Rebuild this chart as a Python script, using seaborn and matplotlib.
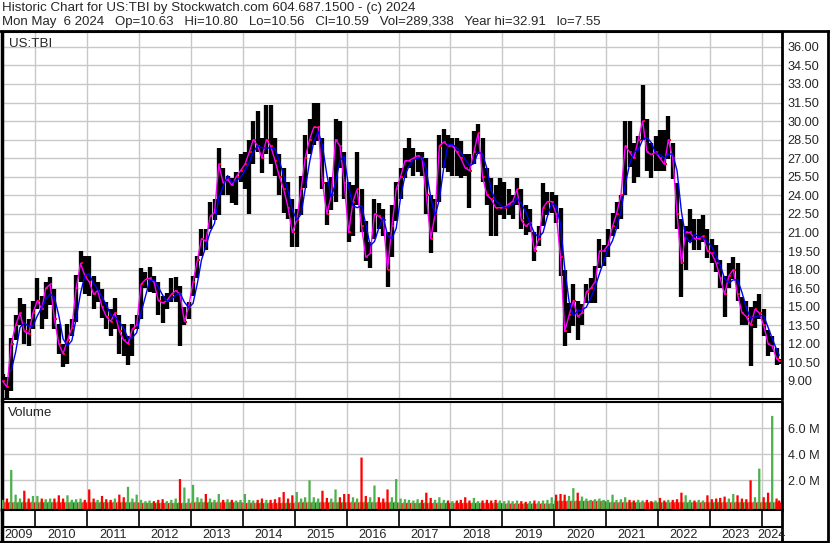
import pandas as pd
import numpy as np
import matplotlib.pyplot as plt
import matplotlib.dates as mdates
from matplotlib.lines import Line2D
import seaborn as sns

sns.set_style("white")
plt.rcParams["font.family"] = ["Liberation Sans", "DejaVu Sans"]

# monthly price readings, May 2009 .. May 2024
close = [9.0, 8.5, 12.0, 13.5, 14.5, 13.0, 12.8, 14.5,                            # 2009
         15.5, 14.8, 16.5, 16.8, 14.0, 12.0, 11.2, 12.3, 13.3, 16.5, 18.5, 17.5,  # 2010
         17.0, 16.0, 16.3, 15.0, 14.2, 13.8, 14.5, 13.0, 12.3, 12.0, 13.2, 13.5,  # 2011
         16.8, 17.2, 17.3, 17.0, 15.5, 15.3, 15.5, 16.0, 16.3, 16.0, 13.8, 15.0,  # 2012
         17.0, 18.8, 20.5, 20.3, 22.3, 22.6, 26.5, 25.0, 25.3, 24.8, 25.5, 26.0,  # 2013
         26.5, 27.5, 28.5, 28.0, 27.0, 28.5, 28.0, 26.8, 25.5, 24.5, 23.0, 21.0,  # 2014
         22.0, 24.5, 27.0, 28.5, 29.5, 29.5, 25.0, 22.5, 24.0, 28.5, 28.0, 25.0,  # 2015
         21.0, 23.5, 24.5, 21.5, 19.0, 19.3, 22.5, 22.3, 22.0, 18.0, 21.5, 24.5,  # 2016
         25.5, 26.8, 26.8, 27.0, 27.2, 27.0, 24.0, 20.5, 22.5, 28.0, 28.3, 28.0,  # 2017
         28.0, 27.5, 27.0, 26.2, 26.0, 27.5, 29.0, 25.5, 24.0, 23.7, 23.0, 23.0,  # 2018
         23.0, 23.3, 23.5, 24.5, 22.0, 21.5, 21.8, 19.5, 20.5, 23.0, 23.5, 23.5,  # 2019
         22.5, 19.0, 13.0, 14.3, 15.5, 14.2, 14.5, 16.2, 16.5, 17.0, 19.5, 19.5,  # 2020
         20.0, 21.5, 22.5, 24.0, 28.0, 27.5, 27.0, 28.5, 30.0, 27.5, 27.3, 27.5,  # 2021
         27.0, 26.5, 28.5, 27.0, 22.5, 18.5, 21.0, 21.0, 20.5, 20.5, 20.7, 19.5,  # 2022
         19.3, 18.5, 17.3, 16.0, 17.5, 18.0, 16.0, 14.5, 14.2, 13.5, 14.8, 14.5,  # 2023
         13.5, 12.0, 11.8, 10.8, 10.59]                                            # 2024

high = [9.6, 9.3, 12.5, 14.3, 15.7, 15.2, 14.0, 15.5,
        17.3, 15.9, 17.0, 17.4, 16.4, 13.6, 12.0, 13.6, 14.0, 17.6, 19.5, 19.1,
        19.1, 17.5, 17.0, 16.4, 15.4, 14.8, 15.7, 14.3, 13.6, 12.6, 13.6, 14.3,
        18.1, 17.8, 18.2, 17.5, 17.0, 15.9, 16.1, 17.3, 17.4, 16.7, 15.0, 15.4,
        17.5, 19.1, 21.3, 21.3, 23.5, 23.7, 27.8, 26.2, 25.6, 25.4, 25.9, 27.3,
        27.5, 28.5, 30.0, 30.8, 28.6, 31.3, 31.3, 28.6, 27.3, 26.2, 25.1, 23.7,
        22.9, 25.6, 28.9, 30.2, 31.5, 31.5, 28.6, 25.1, 25.5, 30.2, 30.0, 27.5,
        25.1, 24.8, 27.5, 24.5, 21.9, 20.2, 23.7, 23.4, 22.9, 21.0, 23.2, 25.1,
        26.2, 27.8, 28.6, 27.8, 27.5, 27.5, 27.0, 24.0, 23.7, 28.9, 29.4, 28.9,
        28.6, 28.6, 28.4, 27.3, 27.3, 29.2, 29.8, 28.6, 26.2, 25.4, 24.8, 25.4,
        25.1, 24.5, 24.0, 25.4, 24.5, 23.2, 22.9, 21.0, 21.5, 25.0, 24.3, 24.3,
        24.0, 23.0, 18.0, 15.3, 16.8, 15.5, 15.2, 16.8, 17.3, 18.3, 20.5, 20.0,
        21.3, 22.6, 23.5, 24.0, 30.0, 30.0, 28.2, 28.8, 32.9, 30.2, 28.2, 28.8,
        29.3, 29.3, 30.4, 28.2, 25.0, 22.1, 21.5, 22.9, 22.1, 22.1, 22.4, 21.3,
        20.5, 20.0, 18.8, 17.5, 18.5, 19.0, 18.5, 15.8, 15.5, 15.0, 15.5, 16.0,
        14.8, 13.1, 12.6, 11.7, 10.8]

low = [8.3, 7.55, 8.2, 12.3, 13.5, 12.0, 11.8, 13.2,
       14.8, 13.2, 14.0, 15.1, 13.2, 11.2, 10.1, 10.4, 12.6, 13.8, 17.0, 16.0,
       15.9, 14.8, 15.4, 14.1, 13.2, 12.6, 13.2, 11.2, 11.0, 10.3, 11.0, 13.2,
       14.0, 16.5, 16.2, 16.1, 14.3, 13.7, 14.8, 15.4, 15.4, 11.8, 13.5, 14.0,
       15.9, 17.3, 19.1, 19.6, 21.3, 22.0, 22.4, 24.0, 24.0, 23.4, 23.2, 25.1,
       24.5, 22.5, 26.5, 27.5, 25.8, 27.3, 26.5, 25.6, 24.0, 22.6, 22.1, 19.8,
       19.8, 22.4, 24.6, 27.3, 28.1, 28.4, 24.5, 21.6, 22.8, 23.5, 26.2, 23.7,
       20.2, 20.7, 23.2, 21.0, 18.7, 18.1, 20.5, 21.3, 20.7, 16.6, 19.0, 21.9,
       23.7, 25.4, 26.2, 25.6, 25.9, 25.6, 22.5, 19.3, 21.0, 23.5, 26.2, 25.9,
       25.6, 25.6, 25.4, 25.6, 23.0, 26.5, 27.3, 25.1, 23.2, 20.7, 20.7, 22.4,
       22.1, 22.4, 22.1, 23.2, 21.3, 20.8, 21.0, 18.7, 19.9, 21.5, 22.4, 22.6,
       21.8, 17.5, 11.8, 12.9, 13.4, 12.3, 13.5, 15.3, 15.3, 15.3, 18.1, 18.3,
       19.0, 20.7, 21.3, 22.1, 24.0, 26.3, 25.0, 25.5, 28.5, 26.0, 25.4, 26.0,
       26.0, 26.0, 26.9, 25.3, 21.3, 15.8, 18.0, 20.2, 19.6, 19.6, 20.2, 18.9,
       18.5, 17.8, 16.5, 14.2, 16.5, 17.2, 15.5, 13.5, 13.5, 10.2, 13.3, 14.0,
       12.6, 11.0, 11.3, 10.3, 10.4]

# tallest daily volume seen in each month (millions)
vol_peak = [0.5, 0.6, 2.8, 0.9, 0.6, 1.2, 0.6, 0.8,
            0.8, 0.6, 0.55, 0.6, 0.6, 0.85, 0.6, 0.85, 0.5, 0.55, 0.6, 0.5,
            1.3, 0.6, 0.5, 0.8, 0.55, 0.5, 0.6, 0.9, 0.7, 1.5, 0.6, 0.9,
            0.5, 0.4, 0.45, 0.4, 0.5, 0.55, 0.4, 0.5, 0.6, 2.1, 1.45, 0.6,
            1.65, 0.7, 0.6, 0.95, 0.6, 0.5, 0.95, 0.5, 0.55, 0.5, 0.45, 0.5,
            0.95, 0.5, 0.45, 0.5, 0.6, 0.5, 0.5, 0.55, 0.7, 1.1, 0.6, 0.85,
            1.1, 0.6, 0.7, 2.0, 0.7, 0.6, 1.2, 0.65, 0.6, 1.3, 0.7, 0.95,
            0.95, 0.7, 0.6, 3.75, 0.8, 0.7, 1.6, 0.7, 0.6, 1.3, 0.7, 2.1,
            0.6, 0.55, 0.5, 0.45, 0.55, 0.5, 1.05, 0.65, 0.5, 0.7, 0.5, 0.45,
            0.4, 0.45, 0.5, 0.7, 0.45, 0.65, 0.4, 0.45, 0.5, 0.45, 0.5, 0.45,
            0.4, 0.45, 0.4, 0.45, 0.4, 0.35, 0.4, 0.45, 0.4, 0.45, 0.5, 0.7,
            0.9, 0.95, 0.9, 0.8, 1.4, 1.05, 0.75, 0.6, 0.5, 0.55, 0.6, 0.5,
            0.5, 0.9, 0.5, 0.55, 0.7, 0.5, 0.45, 0.5, 0.45, 0.5, 0.4, 0.45,
            0.65, 0.45, 0.5, 0.5, 0.55, 1.05, 0.85, 0.5, 0.45, 0.5, 0.45, 0.85,
            0.55, 0.6, 0.65, 0.75, 0.6, 0.95, 0.85, 0.6, 0.55, 2.0, 0.7, 2.9,
            0.7, 1.05, 6.95, 0.6, 0.45]

# typical daily volume per year, 2009 .. 2024 (millions)
base_years = list(range(2009, 2025))
vol_base = [0.35, 0.35, 0.35, 0.3, 0.35, 0.3, 0.35, 0.35, 0.3, 0.3, 0.25, 0.45, 0.35, 0.35, 0.35, 0.35]

# colours of the big volume spikes
spike_months = ["2009-07", "2009-10", "2011-01", "2011-10", "2012-10", "2012-11", "2013-01",
                "2015-04", "2015-07", "2015-10", "2016-04", "2016-07", "2016-12", "2017-07",
                "2020-05", "2020-06", "2022-06", "2023-10", "2023-12", "2024-02", "2024-03"]
spike_cols = ["g", "r", "r", "g", "r", "g", "g", "g", "r", "g", "r", "g", "g", "r",
              "g", "r", "r", "r", "g", "r", "g"]

header1 = "Historic Chart for US:TBI by Stockwatch.com 604.687.1500 - (c) 2024"
header2 = ("Mon May  6 2024   Op=10.63   Hi=10.80   Lo=10.56   Cl=10.59   "
           "Vol=289,338   Year hi=32.91   lo=7.55")

GREEN, RED, GRID = "#4cb04c", "#ff0000", "#c8c8c8"

dates = pd.date_range("2009-05-01", "2024-05-01", freq="MS") + pd.Timedelta(days=14)
dates = dates[:-1].append(pd.DatetimeIndex(["2024-05-03"]))
df = pd.DataFrame({"date": dates, "close": close, "high": high, "low": low, "vol": vol_peak})
df["x"] = mdates.date2num(df["date"])
df["ma_short"] = df["close"]
df["ma_long"] = df["close"].rolling(3).mean()
df["up"] = df["close"].diff().fillna(0) >= 0
col_map = dict(zip(spike_months, spike_cols))
df["vcol"] = [GREEN if col_map.get(d.strftime("%Y-%m"), "g" if u else "r") == "g" else RED
              for d, u in zip(df["date"], df["up"])]
df["base"] = [vol_base[base_years.index(d.year)] for d in df["date"]]

W, H = 830, 543
fig = plt.figure(figsize=(W / 100, H / 100), dpi=100)


def px_axes(x0, y0, x1, y1):
    return fig.add_axes([x0 / W, 1 - y1 / H, (x1 - x0) / W, (y1 - y0) / H])


xlo, xhi = mdates.date2num(pd.Timestamp("2009-05-11")), mdates.date2num(pd.Timestamp("2024-05-23"))
year_starts = [mdates.date2num(pd.Timestamp(f"{y}-01-01")) for y in range(2010, 2025)]

ax = px_axes(2, 32, 782, 399)
axv = px_axes(2, 402, 782, 510)
axb = px_axes(2, 510, 782, 542)

# price panel
ax.vlines(df["x"], df["low"], df["high"], color="black", lw=3.1, zorder=3)
sns.scatterplot(x=df["x"] + 9, y=df["close"], ax=ax, color=RED,
                marker="s", s=4, linewidth=0, zorder=4)
sns.lineplot(x=df["x"], y=df["ma_short"], ax=ax, color="#ff00ff", lw=1.0, zorder=5)
sns.lineplot(x=df["x"], y=df["ma_long"], ax=ax, color="#0000ff", lw=1.0, zorder=6)
ax.set_ylim(7.54, 37.2)
ax.set_yticks(np.arange(9, 36.01, 1.5))
ax.set_yticklabels([f"{v:.2f}" for v in np.arange(9, 36.01, 1.5)], fontsize=9.2)
ax.text(7 / 780, 1 - 12 / 367, "US:TBI", transform=ax.transAxes, fontsize=9.6, va="center")

# volume panel: two half-month bars for the everyday volume, one narrow bar for the peak
floor = -0.28
axv.bar(df["x"] - 7.5, df["base"] - floor, bottom=floor, width=15, color=GREEN,
        linewidth=0, snap=False, zorder=3)
axv.bar(df["x"] + 7.5, df["base"] - floor - 0.05, bottom=floor, width=15, color=RED,
        linewidth=0, snap=False, zorder=3)
axv.bar(df["x"], df["vol"] - floor, bottom=floor, width=16, color=df["vcol"],
        linewidth=0, snap=False, zorder=4)
axv.set_ylim(floor, 8.02)
axv.set_yticks([2, 4, 6])
axv.set_yticklabels(["2.0 M", "4.0 M", "6.0 M"], fontsize=9.2)
axv.text(6 / 780, 1 - 11 / 108, "Volume", transform=axv.transAxes, fontsize=9.6, va="center")

for a in (ax, axv):
    a.set_xlim(xlo, xhi)
    a.set_xticks(year_starts)
    a.set_xticklabels([])
    a.yaxis.tick_right()
    a.tick_params(axis="both", length=0, pad=4)
    a.grid(True, color=GRID, lw=1)
    a.set_axisbelow(True)
    a.set_xlabel("")
    a.set_ylabel("")
    for s in a.spines.values():
        s.set_color("black")
        s.set_linewidth(1.5)
    a.spines["left"].set_linewidth(2.5)
    a.spines["right"].set_linewidth(2)

# year band
axb.set_xlim(xlo, xhi)
axb.set_ylim(0, 32)
axb.set_xticks([])
axb.set_yticks([])
axb.axhline(15, color="black", lw=1.5)
for ys in year_starts:
    axb.plot([ys, ys], [15, 32], color="black", lw=1.2)
for y in range(2009, 2025):
    a0 = max(mdates.date2num(pd.Timestamp(f"{y}-01-01")), xlo)
    a1 = min(mdates.date2num(pd.Timestamp(f"{y + 1}-01-01")), xhi)
    axb.text((a0 + a1) / 2, 6.8, str(y), ha="center", va="center", fontsize=9.2)
for s in axb.spines.values():
    s.set_color("black")
    s.set_linewidth(1.5)
axb.spines["left"].set_linewidth(2.5)
axb.spines["right"].set_linewidth(2)

# header and frame
fig.text(2 / W, 1 - 8.5 / H, header1, fontsize=9.6, va="center")
fig.text(2 / W, 1 - 21.5 / H, header2, fontsize=9.5, va="center")
fig.add_artist(Line2D([0, 1], [1 - 31 / H] * 2, color="black", lw=2))
fig.add_artist(Line2D([828 / W] * 2, [0, 1 - 31 / H], color="black", lw=2))
fig.add_artist(Line2D([0, 828 / W], [1 / H] * 2, color="black", lw=1.5))

fig.savefig("out.png", dpi=100)
